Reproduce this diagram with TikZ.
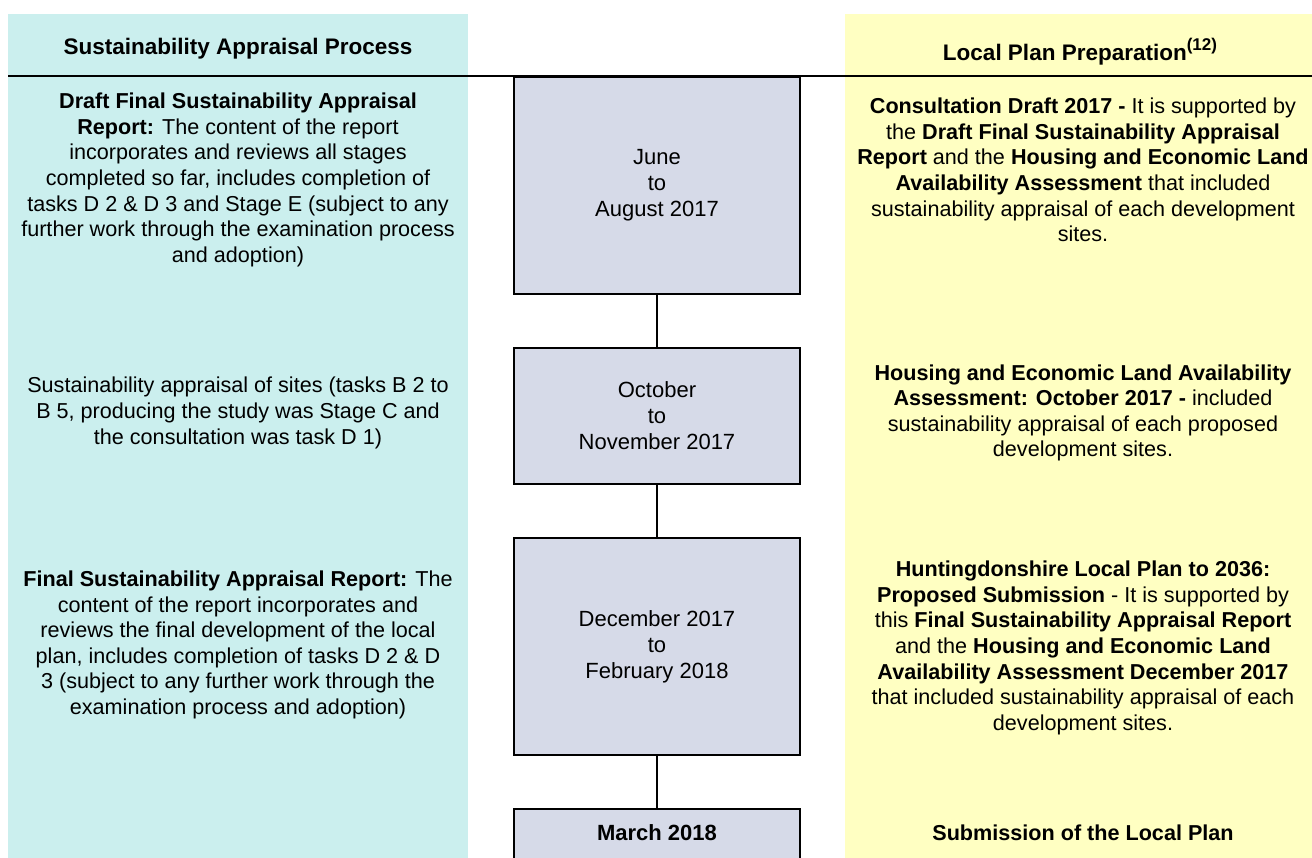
\documentclass[tikz,border=0pt]{standalone}
\usepackage{fontspec}
\setmainfont{Liberation Sans}
\definecolor{sacyan}{HTML}{CBEFEE}
\definecolor{lpyellow}{HTML}{FFFFC2}
\definecolor{datefill}{HTML}{D6DAE8}
\begin{document}
\begin{tikzpicture}[x=1pt,y=-1pt,
  datebox/.style={draw=black, line width=1.7pt, fill=datefill, minimum width=286pt, anchor=north, inner sep=0pt, align=center, font=\fontsize{22}{26}\selectfont},
  bodytext/.style={align=center, font=\fontsize{21.6}{25.6}\selectfont, inner sep=0pt},
  headtext/.style={anchor=base, font=\fontsize{22.5}{26}\selectfont\bfseries, inner sep=0pt},
  link/.style={line width=1.7pt, draw=black}
]
\useasboundingbox (0,0) rectangle (1312,858);
\clip (0,0) rectangle (1312,858);
\fill[white] (0,0) rectangle (1312,858);
\fill[sacyan] (8,14) rectangle (468,858);
\fill[lpyellow] (845,14) rectangle (1312,858);
\draw[line width=1.7pt] (8,76) -- (1312,76);

\node[headtext] (h1) at (238,55) {Sustainability Appraisal Process};
\node[headtext] (h2) at (1080,61) {Local Plan Preparation\raisebox{0.45em}{\fontsize{17}{17}\selectfont(12)}};

\node[datebox, minimum height=217pt] (d1) at (657,76) {June\\to\\August 2017};
\node[datebox, minimum height=136pt] (d2) at (657,347) {October\\to\\November 2017};
\node[datebox, minimum height=217pt] (d3) at (657,537) {December 2017\\to\\February 2018};
\node[datebox, minimum height=80pt] (d4) at (657,808) {};
\node[bodytext, font=\fontsize{22}{26}\selectfont\bfseries] (d4t) at (657,833) {March 2018};

\draw[link] (d1.south) -- (d2.north);
\draw[link] (d2.south) -- (d3.north);
\draw[link] (d3.south) -- (d4.north);

\node[bodytext] (sa1) at (238,180) {\textbf{Draft Final Sustainability Appraisal}\\ \textbf{Report:} The content of the report\\ incorporates and reviews all stages\\ completed so far, includes completion of\\ tasks D 2 \& D 3 and Stage E (subject to any\\ further work through the examination process\\ and adoption)};
\node[bodytext] (sa2) at (238,413) {Sustainability appraisal of sites (tasks B 2 to\\ B 5, producing the study was Stage C and\\ the consultation was task D 1)};
\node[bodytext] (sa3) at (238,645) {\textbf{Final Sustainability Appraisal Report:} The\\ content of the report incorporates and\\ reviews the final development of the local\\ plan, includes completion of tasks D 2 \& D\\ 3 (subject to any further work through the\\ examination process and adoption)};

\node[bodytext] (lp1) at (1083,170) {\textbf{Consultation Draft 2017 -} It is supported by\\ the \textbf{Draft Final Sustainability Appraisal}\\ \textbf{Report} and the \textbf{Housing and Economic Land}\\ \textbf{Availability Assessment} that included\\ sustainability appraisal of each development\\ sites.};
\node[bodytext] (lp2) at (1083,413) {\textbf{Housing and Economic Land Availability}\\ \textbf{Assessment: October 2017 -} included\\ sustainability appraisal of each proposed\\ development sites.};
\node[bodytext] (lp3) at (1083,648) {\textbf{Huntingdonshire Local Plan to 2036:}\\ \textbf{Proposed Submission} - It is supported by\\ this \textbf{Final Sustainability Appraisal Report}\\ and the \textbf{Housing and Economic Land}\\ \textbf{Availability Assessment December 2017}\\ that included sustainability appraisal of each\\ development sites.};
\node[bodytext, font=\fontsize{21.6}{26}\selectfont\bfseries] (lp4) at (1083,833) {Submission of the Local Plan};
\end{tikzpicture}
\end{document}
